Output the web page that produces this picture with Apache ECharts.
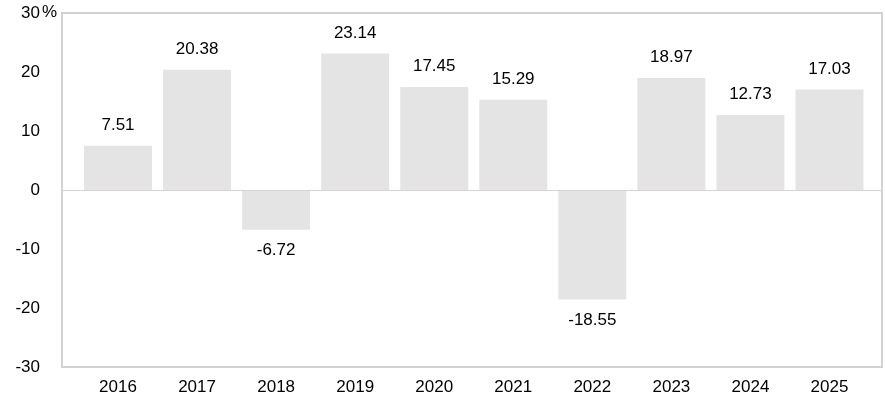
<!DOCTYPE html>
<html>
<head>
<meta charset="utf-8">
<script src="https://cdn.jsdelivr.net/npm/echarts@6/dist/echarts.min.js"></script>
<style>
  html, body { margin: 0; padding: 0; background: #fff; }
  #chart { width: 885px; height: 404px; }
</style>
</head>
<body>
<div id="chart"></div>
<script>
var years = ['2016', '2017', '2018', '2019', '2020', '2021', '2022', '2023', '2024', '2025'];
var returns = [7.51, 20.38, -6.72, 23.14, 17.45, 15.29, -18.55, 18.97, 12.73, 17.03];
var yMin = -30, yMax = 30, yStep = 10;

var font = 'Liberation Sans, Arial, sans-serif';
var chart = echarts.init(document.getElementById('chart'));

var option = {
  animation: false,
  backgroundColor: '#fff',
  textStyle: { fontFamily: font },
  grid: [
    // frame + y labels
    { left: 62, right: 3, top: 13, bottom: 37, show: true, borderColor: '#d2d2d2', borderWidth: 2 },
    // bars
    { left: 78.5, right: 16, top: 13, bottom: 37 }
  ],
  graphic: [{
    type: 'text',
    left: 42, top: 4,
    style: { text: '%', fontSize: 17, fill: '#000', fontFamily: font }
  }],
  xAxis: [{
    gridIndex: 0, type: 'value', min: 0, max: 1, show: false
  }, {
    gridIndex: 1,
    type: 'category',
    data: years,
    axisLine: { show: false },
    axisTick: { show: false },
    axisLabel: { color: '#000', fontSize: 17, margin: 12 }
  }],
  yAxis: [{
    gridIndex: 0,
    type: 'value',
    min: yMin, max: yMax, interval: yStep,
    axisLine: { show: false },
    axisTick: { show: false },
    splitLine: { show: false },
    axisLabel: { color: '#000', fontSize: 17, margin: 22 }
  }, {
    gridIndex: 1,
    type: 'value',
    min: yMin, max: yMax, interval: yStep,
    show: false,
    splitLine: { show: false }
  }],
  series: [{
    type: 'bar',
    xAxisIndex: 1,
    yAxisIndex: 1,
    data: returns.map(function (v) {
      return v < 0 ? { value: v, label: { position: 'bottom' } } : v;
    }),
    barWidth: '86%',
    itemStyle: { color: '#e4e4e4' },
    label: {
      show: true,
      position: 'top',
      color: '#000',
      fontSize: 17,
      distance: 12,
      formatter: function (p) { return p.value.toFixed(2); }
    }
  }, {
    // zero line across the whole frame
    type: 'line',
    xAxisIndex: 0,
    yAxisIndex: 0,
    data: [],
    markLine: {
      silent: true,
      symbol: 'none',
      label: { show: false },
      lineStyle: { color: '#d8d2d8', width: 1, type: 'solid' },
      data: [[{ coord: [0, 0] }, { coord: [1, 0] }]]
    }
  }]
};

chart.setOption(option);
</script>
</body>
</html>
